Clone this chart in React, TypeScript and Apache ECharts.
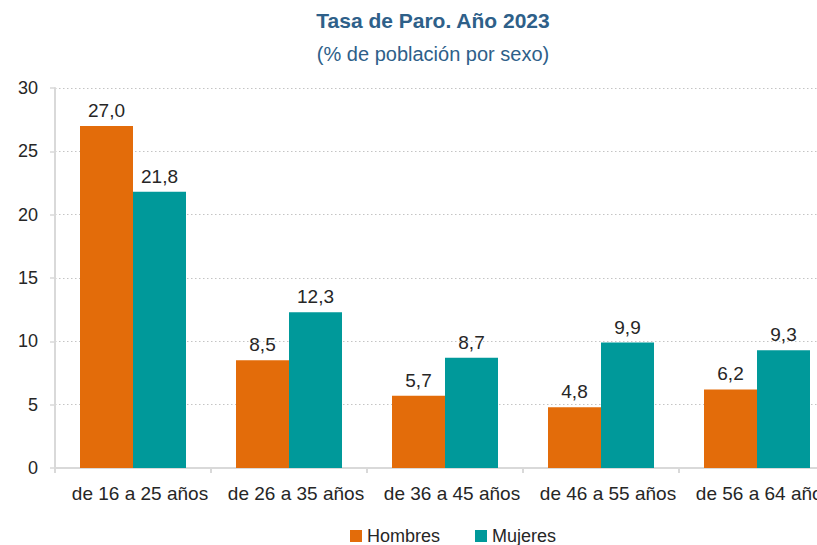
import React, { useEffect, useRef } from "react";
import * as echarts from "echarts";

const categories = ["de 16 a 25 años", "de 26 a 35 años", "de 36 a 45 años", "de 46 a 55 años", "de 56 a 64 años"];
const hombres = [27.0, 8.5, 5.7, 4.8, 6.2];
const mujeres = [21.8, 12.3, 8.7, 9.9, 9.3];
const seriesNames = ["Hombres", "Mujeres"];
const titleText = "Tasa de Paro. Año 2023";
const subtitleText = "(% de población por sexo)";

const FONT = "'Liberation Sans', Arial, sans-serif";
const TITLE_COLOR = "#2E6089";
const TEXT_COLOR = "#262626";

export default function App() {
  const ref = useRef<HTMLDivElement>(null);
  useEffect(() => {
    if (!ref.current) return;
    const chart = echarts.init(ref.current, undefined, { renderer: "svg" });
    const fmt = (p: any) => Number(p.value).toFixed(1).replace(".", ",");
    chart.setOption({
      animation: false,
      textStyle: { fontFamily: FONT },
      graphic: [
        {
          type: "text",
          x: 433,
          y: 10,
          style: {
            text: titleText,
            fontFamily: FONT,
            fontSize: 21,
            fontWeight: "bold",
            fill: TITLE_COLOR,
            textAlign: "center",
            textVerticalAlign: "top",
          },
        },
        {
          type: "text",
          x: 433,
          y: 44,
          style: {
            text: subtitleText,
            fontFamily: FONT,
            fontSize: 20,
            fill: TITLE_COLOR,
            textAlign: "center",
            textVerticalAlign: "top",
          },
        },
      ],
      legend: {
        data: seriesNames,
        left: 350,
        top: 527,
        padding: 0,
        itemWidth: 12,
        itemHeight: 12,
        itemGap: 35,
        icon: "rect",
        textStyle: { fontFamily: FONT, fontSize: 18, color: TEXT_COLOR, lineHeight: 18 },
      },
      grid: { left: 55, right: 31, top: 88, bottom: 77, containLabel: false },
      xAxis: {
        type: "category",
        data: categories,
        axisLine: { lineStyle: { color: "#d9d9d9", width: 2 } },
        axisTick: { show: true, length: 5, lineStyle: { color: "#d9d9d9", width: 2 } },
        axisLabel: {
          fontFamily: FONT,
          fontSize: 19,
          color: TEXT_COLOR,
          margin: 16,
          interval: 0,
          padding: [0, 0, 0, 14],
        },
      },
      yAxis: {
        type: "value",
        min: 0,
        max: 30,
        interval: 5,
        axisLine: { show: true, lineStyle: { color: "#d9d9d9", width: 2 } },
        axisTick: { show: true, length: 5, lineStyle: { color: "#d9d9d9", width: 1.5 } },
        axisLabel: { fontFamily: FONT, fontSize: 18, color: TEXT_COLOR, margin: 17 },
        splitLine: { lineStyle: { color: "#c4c4c4", width: 1, type: [1.5, 2.5] } },
      },
      series: [
        {
          name: seriesNames[0],
          type: "bar",
          data: hombres,
          barWidth: 53,
          barGap: "0%",
          itemStyle: { color: "#E36C0A" },
          label: { show: true, position: "top", distance: 6, formatter: fmt, fontFamily: FONT, fontSize: 19, color: TEXT_COLOR },
        },
        {
          name: seriesNames[1],
          type: "bar",
          data: mujeres,
          barWidth: 53,
          barGap: "0%",
          itemStyle: { color: "#00999A" },
          label: { show: true, position: "top", distance: 6, formatter: fmt, fontFamily: FONT, fontSize: 19, color: TEXT_COLOR },
        },
      ],
    });
    return () => chart.dispose();
  }, []);
  return (
    <div style={{ position: "absolute", left: 0, top: 0, width: 817, height: 545, overflow: "hidden" }}>
      <div ref={ref} style={{ width: 866, height: 545 }} />
    </div>
  );
}
